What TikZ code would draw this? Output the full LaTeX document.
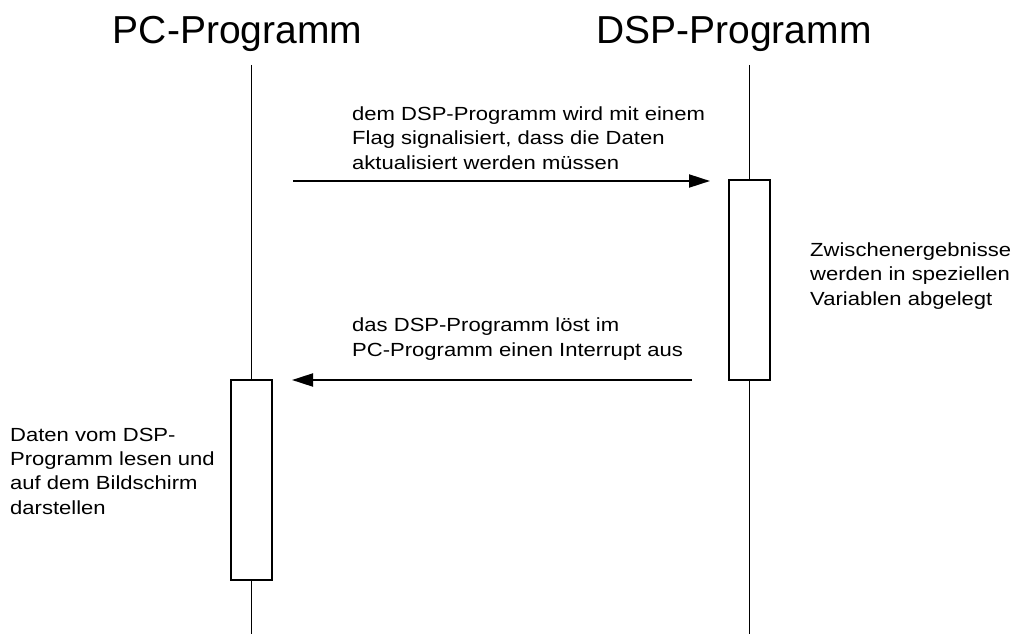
\documentclass[tikz,border=0pt]{standalone}
\usepackage{fontspec}
\setmainfont{Liberation Sans}
\newfontfamily\bodyfont[FakeStretch=1.16]{Liberation Sans}
\usetikzlibrary{arrows.meta}
\begin{document}
\begin{tikzpicture}[x=1pt,y=-1pt,
  title/.style={anchor=base,inner sep=0pt,font=\fontsize{39}{44}\selectfont},
  note/.style={anchor=base west,inner sep=0pt,align=left,font=\bodyfont\fontsize{19}{24.2}\selectfont},
  lifeline/.style={line width=1pt},
  actbox/.style={draw,fill=white,line width=1.5pt,minimum width=41pt,minimum height=200pt,inner sep=0pt},
  msg/.style={line width=2pt,-{Triangle[length=21pt,width=13pt]}}]
\useasboundingbox (0,0) rectangle (1014,634);
\node[title] (pct) at (237.5,44) {PC-Programm};
\node[title] (dspt) at (734,44) {DSP-Programm};
\coordinate (pctop) at (251,65);
\coordinate (pcbot) at (251,634);
\coordinate (dsptop) at (749.5,65);
\coordinate (dspbot) at (749.5,634);
\draw[lifeline] (pctop) -- (pcbot);
\draw[lifeline] (dsptop) -- (dspbot);
\node[actbox] (dspact) at (749.5,280) {};
\node[actbox] (pcact) at (251.5,480) {};
\coordinate (m1s) at (293,181);
\coordinate (m1e) at (710,181);
\coordinate (m2s) at (692,380);
\coordinate (m2e) at (292,380);
\draw[msg] (m1s) -- (m1e);
\draw[msg] (m2s) -- (m2e);
\node[note] (l1) at (352,169) {dem DSP-Programm wird mit einem\\Flag signalisiert, dass die Daten\\aktualisiert werden müssen};
\node[note] (l2) at (352,356) {das DSP-Programm löst im\\PC-Programm einen Interrupt aus};
\node[note] (l3) at (810,305) {Zwischenergebnisse\\werden in speziellen\\Variablen abgelegt};
\node[note] (l4) at (10,514) {Daten vom DSP-\\Programm lesen und\\auf dem Bildschirm\\darstellen};
\end{tikzpicture}
\end{document}
